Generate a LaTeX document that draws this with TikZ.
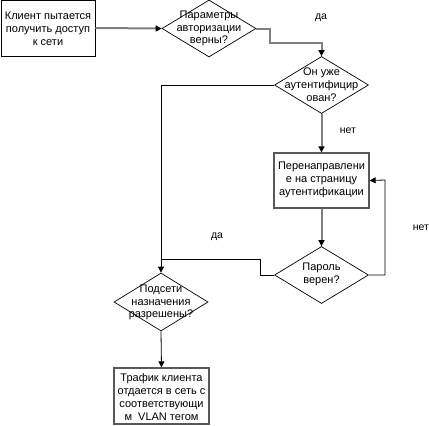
\documentclass[tikz,border=0pt]{standalone}
\usepackage{fontspec}
\setmainfont{Liberation Sans}
\usetikzlibrary{shapes.geometric,arrows.meta}
\begin{document}
\begin{tikzpicture}[x=1pt,y=-1pt,
  txt/.style={align=center,font=\fontsize{11}{12.8}\selectfont,inner sep=0pt},
  lbl/.style={font=\fontsize{10.5}{12}\selectfont,inner sep=0pt},
  rbox/.style={draw,rectangle,inner sep=0pt},
  dec/.style={draw=black,line width=0.7pt,diamond,inner sep=0pt,minimum width=94pt,minimum height=57pt},
  tip/.style={-{Triangle[length=6pt,width=6pt,color=black]}},
  gline/.style={draw=gray,line width=2pt},
  bline/.style={draw=black,line width=0.8pt}]
\useasboundingbox (0,0) rectangle (429,426);
% boxes
\node[rbox,draw=black,line width=0.8pt,minimum width=94pt,minimum height=56pt] (b1) at (48,28) {};
\node[txt] (b1t) at (48,28.5) {Клиент пытается\\получить доступ\\к сети};
\node[rbox,draw=gray!70!black,line width=1.2pt,minimum width=95pt,minimum height=55pt] (b2) at (321.5,180.5) {};
\node[txt] (b2t) at (321.5,180) {Перенаправлени\\е на страницу\\аутентификации};
\node[rbox,draw=gray!70!black,line width=1.2pt,minimum width=95pt,minimum height=56pt] (b3) at (161.5,396) {};
\node[txt] (b3t) at (161.5,397) {Трафик клиента\\отдается в сеть с\\соответствующи\\м\ \ VLAN тегом};
% diamonds
\node[dec] (d1) at (209,28.5) {};
\node[txt] (d1t) at (209,28.5) {Параметры\\авторизации\\верны?};
\node[dec] (d2) at (321.5,85) {};
\node[txt] (d2t) at (321.5,85) {Он уже\\аутентифицир\\ован?};
\node[dec] (d3) at (321.5,275) {};
\node[txt] (d3t) at (321.5,274.5) {Пароль\\верен?};
\node[dec,minimum height=58pt] (d4) at (161,302) {};
\node[txt] (d4t) at (161,302.5) {Подсети\\назначения\\разрешены?};
% coordinates
\coordinate (c1) at (270,28.5);
\coordinate (c2) at (270,43);
\coordinate (c3) at (321.5,43);
\coordinate (c4) at (385,275);
\coordinate (c5) at (385,180);
\coordinate (c6) at (161,85);
\coordinate (c7) at (260,275);
\coordinate (c8) at (260,259);
\coordinate (c9) at (161,259);
% connectors
\draw[gline,tip] (b1.east) -- (d1.west);
\draw[gline,tip] (d1.east) -- (c1) -- (c2) -- (c3) -- (d2.north);
\draw[gline,tip] (d2.south) -- (b2.north);
\draw[gline,tip] (b2.south) -- (d3.north);
\draw[bline,tip] (d3.east) -- (c4) -- (c5) -- (b2.east);
\draw[bline,tip] (d2.west) -- (c6) -- (d4.north);
\draw[bline] (d3.west) -- (c7) -- (c8) -- (c9);
\draw[bline,tip] (d4.south) -- (b3.north);
% labels
\node[lbl] (l1) at (321,18) {да};
\node[lbl] (l2) at (348,131) {нет};
\node[lbl] (l3) at (421,228) {нет};
\node[lbl] (l4) at (217,237) {да};
\end{tikzpicture}
\end{document}
